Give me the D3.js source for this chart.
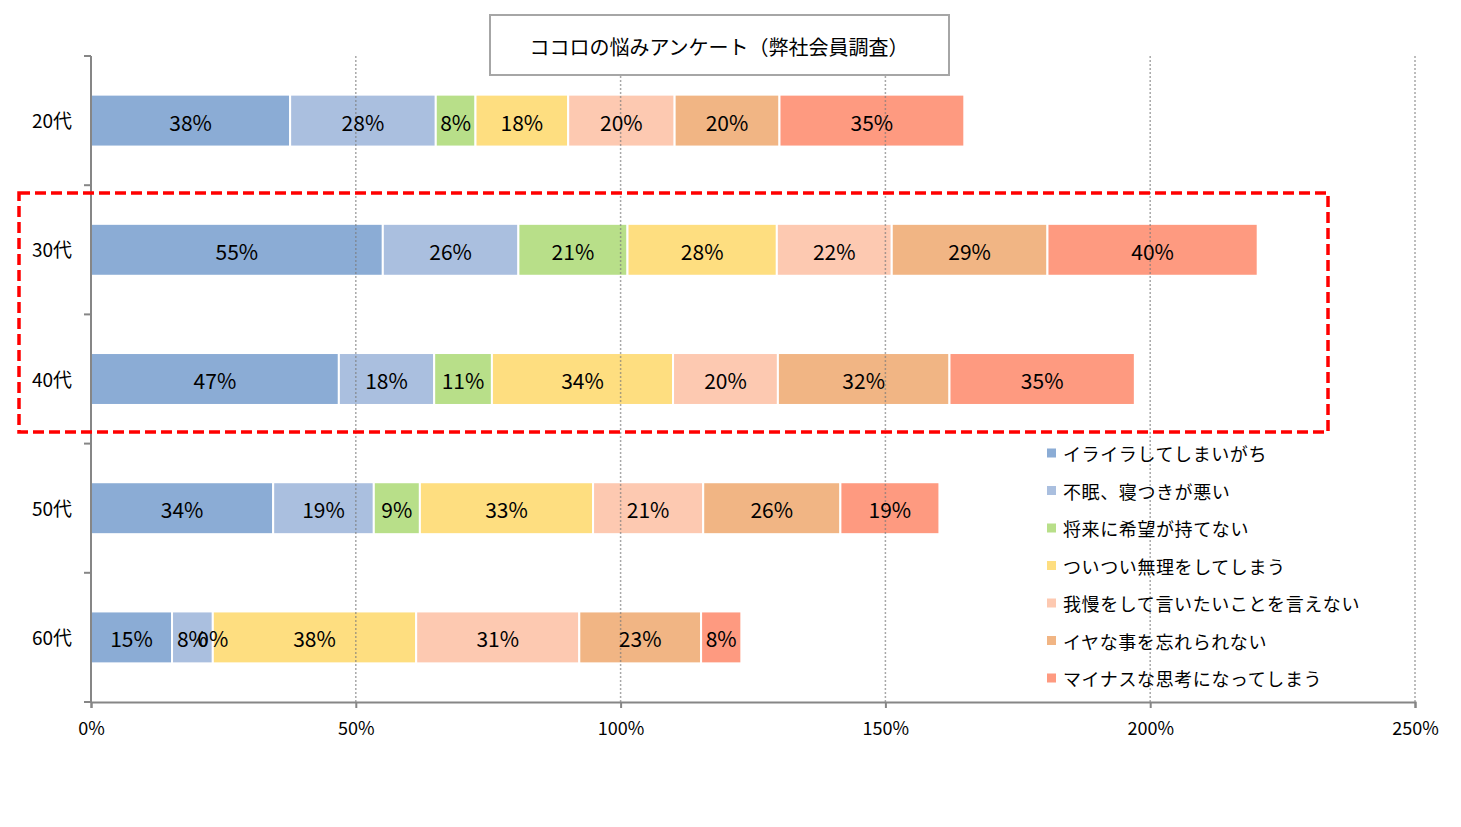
<!DOCTYPE html>
<html>
<head>
<meta charset="utf-8">
<script src="https://cdnjs.cloudflare.com/ajax/libs/d3/7.8.5/d3.min.js"></script>
<style>
    body { margin: 0; background: #fff; }
    text { font-family: "Noto Sans CJK JP", "Noto Sans", sans-serif; fill: #000; }
    .barLabel { font-size: 21px; }
    .catLabel { font-size: 19px; }
    .tickLabel { font-size: 18px; }
    .legendText { font-size: 18px; letter-spacing: 0.6px; }
    .titleText { font-size: 20px; }
</style>
</head>
<body>
<div class="chart"></div>
<script>
var svgWidth = 1461;
var svgHeight = 827;

var margin = { top: 56, right: 46, bottom: 125, left: 91 };

var width = svgWidth - margin.left - margin.right;
var height = svgHeight - margin.top - margin.bottom;

// chart data
var categories = ["20代", "30代", "40代", "50代", "60代"];
var seriesNames = [
    "イライラしてしまいがち",
    "不眠、寝つきが悪い",
    "将来に希望が持てない",
    "ついつい無理をしてしまう",
    "我慢をして言いたいことを言えない",
    "イヤな事を忘れられない",
    "マイナスな思考になってしまう"
];
var irairaValues   = [37.6, 55.1, 46.8, 34.4, 15.3];
var fuminValues    = [27.5, 25.6, 18.0, 19.0, 7.7];
var shoraiValues   = [7.5, 20.6, 10.9, 8.7, 0];
var muriValues     = [17.5, 28.2, 34.2, 32.7, 38.4];
var gamanValues    = [20.1, 21.7, 19.8, 20.8, 30.8];
var iyanaValues    = [19.8, 29.4, 32.4, 25.9, 23.0];
var minusValues    = [34.9, 39.7, 35.0, 18.7, 7.6];
var xTicks = [0, 50, 100, 150, 200, 250];
var titleLabel = "ココロの悩みアンケート（弊社会員調査）";

var seriesValues = [irairaValues, fuminValues, shoraiValues, muriValues, gamanValues, iyanaValues, minusValues];
var colors = ["#8BACD5", "#AABFDF", "#B8DF89", "#FEDE80", "#FDC9B1", "#F1B584", "#FE9A80"];

// build rows for the stack
var rows = categories.map(function(cat, i) {
    var row = { category: cat };
    seriesNames.forEach(function(name, s) {
        row[name] = seriesValues[s][i];
    });
    return row;
});

var stacked = d3.stack().keys(seriesNames)(rows);

var svg = d3.select(".chart")
    .append("svg")
    .attr("width", svgWidth)
    .attr("height", svgHeight);

var chart = svg.append("g")
    .attr("transform", "translate(" + margin.left + "," + margin.top + ")");

// scales
var xLinearScale = d3.scaleLinear()
    .domain([0, 250])
    .range([0, width]);

var yBandScale = d3.scaleBand()
    .domain(categories)
    .range([0, height])
    .paddingInner(0.598)
    .paddingOuter(0.299);

// bars
var layers = chart.selectAll(".layer")
    .data(stacked)
    .enter()
    .append("g")
    .attr("class", "layer")
    .attr("fill", function(d, i) { return colors[i]; });

layers.selectAll("rect")
    .data(function(d) { return d; })
    .enter()
    .append("rect")
    .attr("x", function(d) { return xLinearScale(d[0]); })
    .attr("y", function(d) { return yBandScale(d.data.category); })
    .attr("width", function(d) { return xLinearScale(d[1]) - xLinearScale(d[0]); })
    .attr("height", yBandScale.bandwidth())
    .attr("stroke", "#fff")
    .attr("stroke-width", 2);

// gridlines over the bars
chart.append("g")
    .selectAll("line")
    .data(xTicks.slice(1))
    .enter()
    .append("line")
    .attr("x1", function(d) { return xLinearScale(d); })
    .attr("x2", function(d) { return xLinearScale(d); })
    .attr("y1", 0)
    .attr("y2", height)
    .attr("stroke", "#7a7a7a")
    .attr("stroke-opacity", 0.65)
    .attr("stroke-width", 1.5)
    .attr("stroke-dasharray", "2,2");

// value labels, drawn after all bars so the 0% label stays visible
var labelGroup = chart.append("g");
stacked.forEach(function(layer) {
    labelGroup.selectAll(null)
        .data(layer)
        .enter()
        .append("text")
        .attr("class", "barLabel")
        .attr("text-anchor", "middle")
        .attr("dominant-baseline", "central")
        .attr("x", function(d) { return (xLinearScale(d[0]) + xLinearScale(d[1])) / 2; })
        .attr("y", function(d) { return yBandScale(d.data.category) + yBandScale.bandwidth() / 2 + 1; })
        .text(function(d) { return Math.round(d.data[layer.key]) + "%"; });
});

// y axis: line, ticks between categories, labels
chart.append("line")
    .attr("x1", 0).attr("x2", 0)
    .attr("y1", 0).attr("y2", height)
    .attr("stroke", "#868686")
    .attr("stroke-width", 2);

var yTickPos = d3.range(categories.length + 1).map(function(i) { return i * yBandScale.step(); });
chart.append("g")
    .selectAll("line")
    .data(yTickPos)
    .enter()
    .append("line")
    .attr("x1", -7).attr("x2", 0)
    .attr("y1", function(d) { return d; })
    .attr("y2", function(d) { return d; })
    .attr("stroke", "#868686")
    .attr("stroke-width", 2);

chart.append("g")
    .selectAll("text")
    .data(categories)
    .enter()
    .append("text")
    .attr("class", "catLabel")
    .attr("text-anchor", "end")
    .attr("dominant-baseline", "central")
    .attr("x", -19)
    .attr("y", function(d) { return yBandScale(d) + yBandScale.bandwidth() / 2 - 1; })
    .text(function(d) { return d; });

// x axis
var bottomAxis = d3.axisBottom(xLinearScale)
    .tickValues(xTicks)
    .tickSize(6)
    .tickPadding(14)
    .tickFormat(function(d) { return d + "%"; });

var xAxis = chart.append("g")
    .attr("transform", "translate(0," + height + ")")
    .call(bottomAxis);

xAxis.select(".domain").attr("stroke", "#868686").attr("stroke-width", 2);
xAxis.selectAll(".tick line").attr("stroke", "#868686").attr("stroke-width", 2);
xAxis.selectAll(".tick text")
    .attr("class", "tickLabel")
    .attr("font-family", null)
    .attr("font-size", null)
    .attr("fill", "#000");
xAxis.attr("font-family", null).attr("font-size", null);

// title box
var titleBox = svg.append("g");
titleBox.append("rect")
    .attr("x", 490).attr("y", 15)
    .attr("width", 459).attr("height", 60)
    .attr("fill", "#fff")
    .attr("stroke", "#a6a6a6")
    .attr("stroke-width", 2);
titleBox.append("text")
    .attr("class", "titleText")
    .attr("x", 719).attr("y", 46)
    .attr("text-anchor", "middle")
    .attr("dominant-baseline", "central")
    .text(titleLabel);

// legend
var legend = svg.append("g")
    .attr("transform", "translate(1047,453)");

var legendItems = legend.selectAll(".legendItem")
    .data(seriesNames)
    .enter()
    .append("g")
    .attr("class", "legendItem")
    .attr("transform", function(d, i) { return "translate(0," + (i * 37.5) + ")"; });

legendItems.append("rect")
    .attr("x", 0).attr("y", -4.5)
    .attr("width", 9).attr("height", 9)
    .attr("fill", function(d, i) { return colors[i]; });

legendItems.append("text")
    .attr("class", "legendText")
    .attr("x", 16)
    .attr("y", 0)
    .attr("dominant-baseline", "central")
    .text(function(d) { return d; });

// red dashed highlight around 30代 and 40代
svg.append("rect")
    .attr("x", 19).attr("y", 193)
    .attr("width", 1309).attr("height", 239)
    .attr("fill", "none")
    .attr("stroke", "#ff0000")
    .attr("stroke-width", 3.5)
    .attr("stroke-dasharray", "11,5");
</script>
</body>
</html>
